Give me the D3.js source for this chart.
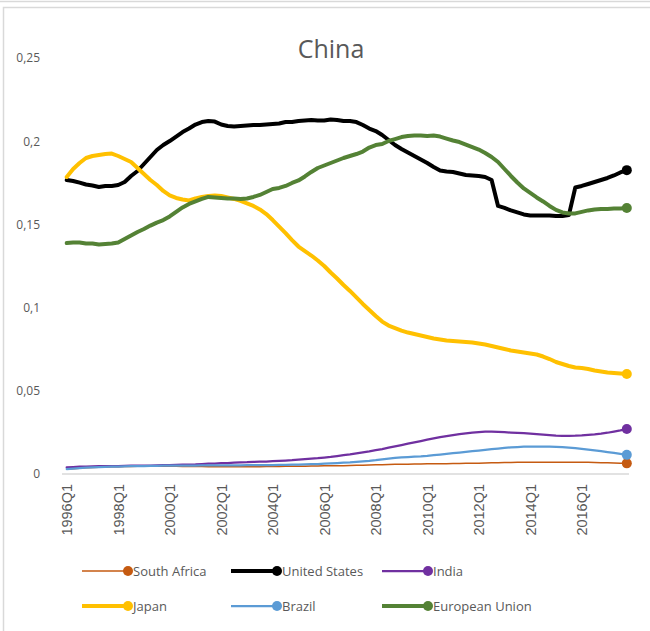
<!DOCTYPE html>
<html><head><meta charset="utf-8">
<script src="https://cdn.jsdelivr.net/npm/d3@7"></script>
<style>
html,body{margin:0;padding:0;background:#fff;}
svg{display:block;}
</style></head>
<body>
<svg id="chart" width="650" height="631"></svg>
<script>
const title = "China";
const years = d3.range(1996, 2018);
const categories = [];
years.forEach(y => { for (let q = 1; q <= 4; q++) categories.push(y + "Q" + q); });
const tickLabels = ["1996Q1","1998Q1","2000Q1","2002Q1","2004Q1","2006Q1","2008Q1","2010Q1","2012Q1","2014Q1","2016Q1"];
const yTicks = [0, 0.05, 0.1, 0.15, 0.2, 0.25];
const seriesNames = ["South Africa","United States","India","Japan","Brazil","European Union"];

const southAfrica = [0.0028,0.0031,0.0034,0.0037,0.0039,0.0041,0.0042,0.0043,0.0044,
0.0045,0.0045,0.0046,0.0046,0.0046,0.0046,0.0046,0.0046,
0.0046,0.0045,0.0045,0.0045,0.0045,0.0044,0.0044,0.0044,
0.0044,0.0044,0.0044,0.0044,0.0044,0.0044,0.0045,0.0045,
0.0045,0.0046,0.0046,0.0047,0.0047,0.0048,0.0048,0.0049,
0.0049,0.0050,0.0050,0.0051,0.0052,0.0053,0.0054,0.0055,
0.0056,0.0057,0.0058,0.0059,0.0059,0.0060,0.0060,0.0061,
0.0061,0.0062,0.0062,0.0063,0.0063,0.0064,0.0064,0.0065,
0.0066,0.0067,0.0068,0.0069,0.0069,0.0070,0.0070,0.0071,
0.0071,0.0071,0.0071,0.0071,0.0071,0.0071,0.0071,0.0071,
0.0070,0.0069,0.0068,0.0067,0.0066,0.0065,0.0064];

const unitedStates = [0.1767,0.1761,0.1751,0.1740,0.1734,0.1725,0.1731,0.1731,0.1737,
0.1755,0.1791,0.1821,0.1863,0.1905,0.1947,0.1977,0.2001,
0.2028,0.2055,0.2076,0.2100,0.2115,0.2121,0.2118,0.2100,
0.2091,0.2088,0.2091,0.2094,0.2097,0.2097,0.2100,0.2103,
0.2106,0.2115,0.2115,0.2121,0.2124,0.2127,0.2124,0.2124,
0.2130,0.2127,0.2121,0.2121,0.2115,0.2097,0.2076,0.2061,
0.2037,0.2007,0.1977,0.1953,0.1932,0.1911,0.1890,0.1869,
0.1845,0.1824,0.1818,0.1815,0.1806,0.1797,0.1794,0.1791,
0.1785,0.1767,0.1611,0.1599,0.1584,0.1572,0.1560,0.1554,
0.1554,0.1554,0.1554,0.1550,0.1550,0.1556,0.1722,0.1731,
0.1743,0.1755,0.1767,0.1779,0.1794,0.1812,0.1826];

const india = [0.0040,0.0042,0.0044,0.0045,0.0046,0.0047,0.0047,0.0048,0.0048,
0.0049,0.0050,0.0050,0.0051,0.0051,0.0052,0.0053,0.0054,
0.0055,0.0056,0.0057,0.0058,0.0060,0.0062,0.0063,0.0065,
0.0066,0.0068,0.0070,0.0071,0.0073,0.0074,0.0075,0.0077,
0.0079,0.0081,0.0083,0.0086,0.0089,0.0092,0.0095,0.0099,
0.0103,0.0108,0.0113,0.0118,0.0124,0.0130,0.0136,0.0143,
0.0150,0.0158,0.0166,0.0174,0.0182,0.0190,0.0198,0.0206,
0.0214,0.0222,0.0228,0.0234,0.0239,0.0244,0.0248,0.0252,
0.0254,0.0254,0.0253,0.0251,0.0249,0.0247,0.0245,0.0242,
0.0239,0.0236,0.0233,0.0230,0.0229,0.0229,0.0230,0.0232,
0.0235,0.0238,0.0242,0.0248,0.0255,0.0262,0.0270];

const japan = [0.1785,0.1833,0.1869,0.1899,0.1911,0.1917,0.1923,0.1926,0.1911,
0.1893,0.1875,0.1839,0.1803,0.1767,0.1737,0.1701,0.1674,
0.1659,0.1650,0.1644,0.1656,0.1665,0.1671,0.1674,0.1671,
0.1662,0.1653,0.1641,0.1626,0.1611,0.1590,0.1562,0.1526,
0.1487,0.1448,0.1406,0.1367,0.1340,0.1313,0.1283,0.1250,
0.1211,0.1175,0.1136,0.1100,0.1061,0.1022,0.0986,0.0950,
0.0916,0.0892,0.0877,0.0862,0.0850,0.0841,0.0832,0.0823,
0.0814,0.0808,0.0802,0.0799,0.0796,0.0793,0.0790,0.0784,
0.0778,0.0769,0.0760,0.0751,0.0742,0.0736,0.0730,0.0724,
0.0718,0.0706,0.0691,0.0673,0.0661,0.0649,0.0640,0.0637,
0.0631,0.0622,0.0616,0.0610,0.0607,0.0604,0.0601];

const brazil = [0.0030,0.0033,0.0036,0.0038,0.0040,0.0042,0.0043,0.0044,0.0045,
0.0046,0.0047,0.0048,0.0048,0.0049,0.0049,0.0050,0.0050,
0.0050,0.0051,0.0051,0.0051,0.0052,0.0052,0.0052,0.0052,
0.0052,0.0052,0.0052,0.0053,0.0053,0.0053,0.0054,0.0054,
0.0055,0.0055,0.0056,0.0057,0.0058,0.0059,0.0060,0.0062,
0.0064,0.0066,0.0068,0.0070,0.0073,0.0076,0.0079,0.0083,
0.0088,0.0093,0.0097,0.0100,0.0102,0.0104,0.0106,0.0109,
0.0113,0.0117,0.0121,0.0125,0.0129,0.0133,0.0137,0.0141,
0.0145,0.0149,0.0153,0.0157,0.0160,0.0162,0.0164,0.0165,
0.0165,0.0165,0.0164,0.0163,0.0161,0.0158,0.0155,0.0151,
0.0147,0.0142,0.0137,0.0132,0.0127,0.0121,0.0115];

const europeanUnion = [0.1388,0.1391,0.1391,0.1385,0.1385,0.1379,0.1382,0.1385,0.1391,
0.1412,0.1433,0.1454,0.1472,0.1493,0.1511,0.1526,0.1548,
0.1575,0.1602,0.1623,0.1638,0.1653,0.1665,0.1662,0.1659,
0.1656,0.1656,0.1653,0.1656,0.1665,0.1677,0.1695,0.1713,
0.1719,0.1731,0.1749,0.1764,0.1788,0.1815,0.1839,0.1854,
0.1869,0.1884,0.1899,0.1911,0.1923,0.1938,0.1962,0.1977,
0.1983,0.2001,0.2013,0.2025,0.2031,0.2034,0.2034,0.2031,
0.2034,0.2028,0.2016,0.2004,0.1995,0.1980,0.1965,0.1950,
0.1929,0.1905,0.1875,0.1833,0.1791,0.1752,0.1716,0.1689,
0.1662,0.1638,0.1611,0.1587,0.1572,0.1566,0.1566,0.1575,
0.1584,0.1590,0.1593,0.1593,0.1596,0.1596,0.1599];

const seriesValues = [southAfrica, unitedStates, india, japan, brazil, europeanUnion];
const colors = ["#C55A11","#000000","#7030A0","#FFC000","#5B9BD5","#548235"];
const widths = [1.5, 4, 2.25, 4, 2.25, 4];

const svg = d3.select("#chart");
const textColor = "#595959";

// frames
svg.append("rect").attr("x",-2).attr("y",-10).attr("width",660).attr("height",11.5)
  .attr("fill","none").attr("stroke","#d9d9d9").attr("stroke-width",1.5);
svg.append("rect").attr("x",3.5).attr("y",7.5).attr("width",660).attr("height",640)
  .attr("fill","#fff").attr("stroke","#d9d9d9").attr("stroke-width",1.5);

const x = d3.scalePoint().domain(categories).range([66.7, 626.8]);
const y = d3.scaleLinear().domain([0, 0.25]).range([474, 58]);

// title
svg.append("text").attr("x", 331).attr("y", 58).attr("text-anchor","middle")
  .attr("font-family","'Open Sans', 'Noto Sans', sans-serif").attr("font-size", 25)
  .attr("fill", textColor).text(title);

// y axis (no line)
const fmt = v => (v === 0 ? "0" : String(+v.toFixed(2)).replace(".", ","));
const yAxis = d3.axisLeft(y).tickValues(yTicks).tickFormat(fmt).tickSize(0).tickPadding(0);
const yg = svg.append("g").attr("transform","translate(40,0)").call(yAxis);
yg.select(".domain").remove();
yg.selectAll("text").attr("font-family","'Open Sans', 'Noto Sans', sans-serif")
  .attr("font-size", 12).attr("fill", textColor);

// baseline
svg.append("line").attr("x1", 62).attr("x2", 629).attr("y1", y(0)).attr("y2", y(0))
  .attr("stroke","#d9d9d9").attr("stroke-width", 1.5);

// x axis labels
const xAxis = d3.axisBottom(x).tickValues(tickLabels).tickSize(0).tickPadding(0);
const xg = svg.append("g").attr("transform", `translate(0,${y(0)})`).call(xAxis);
xg.select(".domain").remove();
xg.selectAll("text")
  .attr("font-family","'Liberation Sans', Arial, sans-serif")
  .attr("font-size", 14.5).attr("fill", textColor)
  .attr("text-anchor","end")
  .attr("dy", null)
  .attr("transform","translate(5,10) rotate(-90)");

// lines
const line = d3.line().x((d, i) => x(categories[i])).y(d => y(d));
seriesValues.forEach((vals, s) => {
  svg.append("path").datum(vals).attr("d", line)
    .attr("fill","none").attr("stroke", colors[s]).attr("stroke-width", widths[s])
    .attr("stroke-linejoin","round").attr("stroke-linecap","round");
  const li = vals.length - 1;
  svg.append("circle").attr("cx", x(categories[li])).attr("cy", y(vals[li]))
    .attr("r", 5).attr("fill", colors[s]);
});

// legend
const legX = [82, 231, 382];
const legY = [571, 606];
seriesNames.forEach((name, s) => {
  const cx = legX[s % 3], cy = legY[Math.floor(s / 3)];
  const g = svg.append("g");
  g.append("line").attr("x1", cx).attr("x2", cx + 46).attr("y1", cy).attr("y2", cy)
    .attr("stroke", colors[s]).attr("stroke-width", widths[s]);
  g.append("circle").attr("cx", cx + 46).attr("cy", cy).attr("r", 5).attr("fill", colors[s]);
  g.append("text").attr("x", cx + 51).attr("y", cy).attr("dy","0.35em")
    .attr("font-family","'Open Sans', 'Noto Sans', sans-serif").attr("font-size", 13)
    .attr("fill", textColor).text(name);
});
</script>
</body></html>
